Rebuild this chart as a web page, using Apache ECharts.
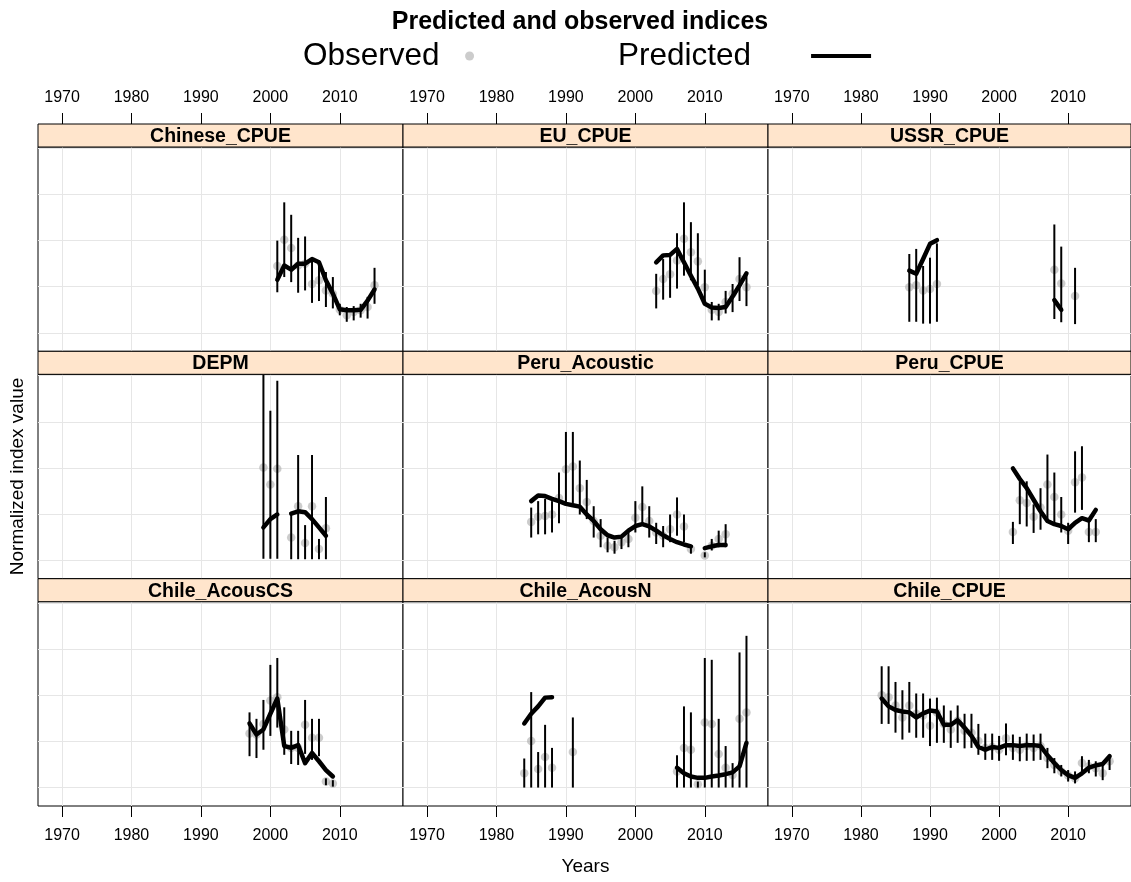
<!DOCTYPE html>
<html>
<head>
<meta charset="utf-8">
<script src="https://cdn.jsdelivr.net/npm/echarts@6/dist/echarts.min.js"></script>
<style>
html,body{margin:0;padding:0;background:#fff;}
#chart{width:1131px;height:882px;}
</style>
</head>
<body>
<div id="chart"></div>
<script>
// ---------------- DATA ----------------
const panelNames = ['Chinese_CPUE','EU_CPUE','USSR_CPUE','DEPM','Peru_Acoustic','Peru_CPUE','Chile_AcousCS','Chile_AcousN','Chile_CPUE'];
const xTicks = [1970, 1980, 1990, 2000, 2010];
const yTicks = [0, 1, 2, 3, 4];

const chineseYears = [2001,2002,2003,2004,2005,2006,2007,2008,2009,2010,2011,2012,2013,2014,2015];
const chineseObs  = [1.45,2.02,1.84,1.46,1.50,1.06,1.14,0.92,0.85,0.50,0.38,0.45,0.49,0.56,1.03];
const chineseLo   = [0.88,1.21,1.10,0.87,0.92,0.65,0.69,0.56,0.53,0.38,0.24,0.27,0.33,0.31,0.63];
const chineseHi   = [2.00,2.83,2.56,2.06,2.09,1.64,1.57,1.32,1.21,0.63,0.56,0.58,0.63,0.78,1.41];
const chinesePred = [1.15,1.46,1.37,1.50,1.50,1.60,1.53,1.14,0.85,0.51,0.49,0.49,0.50,0.70,0.94];

const euYears = [2003,2004,2005,2006,2007,2008,2009,2010,2011,2012,2013,2014,2015,2016];
const euObs  = [0.91,1.17,1.27,1.57,2.04,1.75,1.55,0.99,0.50,0.45,0.67,0.85,1.17,0.99];
const euLo   = [0.53,0.72,0.76,0.96,1.24,1.14,1.03,0.63,0.27,0.27,0.42,0.45,0.69,0.58];
const euHi   = [1.28,1.60,1.68,2.16,2.83,2.40,2.16,1.37,0.67,0.63,0.91,1.06,1.64,1.32];
const euPred = [1.53,1.68,1.69,1.82,1.53,1.24,0.96,0.63,0.55,0.54,0.56,0.79,1.03,1.29];

const ussrYears = [1987,1988,1989,1990,1991,2008,2009,2011];
const ussrObs  = [0.99,1.03,0.92,0.95,1.06,1.37,1.07,0.80];
const ussrLo   = [0.24,0.24,0.20,0.20,0.24,0.30,0.23,0.19];
const ussrHi   = [1.71,1.82,1.45,1.63,1.94,2.35,1.87,1.41];
const ussrPred = [1.35,1.28,1.60,1.93,2.01,0.71,0.50,null];

const depmYears = [1999,2000,2001,2003,2004,2005,2006,2007,2008];
const depmObs  = [2.01,1.64,1.98,0.49,1.17,0.37,1.17,0.24,0.69];
const depmLo   = [0.03,0.03,0.03,0.02,0.02,0.02,0.02,0.02,0.02];
const depmHi   = [4.60,3.24,3.89,0.99,2.28,0.76,2.28,0.46,1.37];
const depmPred = [0.71,0.89,0.99,1.01,1.06,1.04,0.89,0.71,0.53];

const peruAcYears = [1985,1986,1987,1988,1989,1990,1991,1992,1993,1994,1995,1996,1997,1998,1999,2000,2001,2002,2003,2004,2005,2006,2007,2008,2010,2011,2012,2013];
const peruAcObs  = [0.83,0.94,0.96,0.99,1.35,1.97,2.03,1.56,1.26,0.85,0.53,0.31,0.28,0.39,0.46,0.92,1.15,0.85,0.60,0.53,0.67,0.99,0.73,0.24,0.10,0.31,0.46,0.56];
const peruAcLo   = [0.49,0.56,0.56,0.60,0.80,1.24,1.24,0.99,0.89,0.49,0.28,0.17,0.14,0.24,0.28,0.60,0.78,0.49,0.35,0.28,0.39,0.53,0.39,0.14,0.06,0.21,0.28,0.28];
const peruAcHi   = [1.14,1.28,1.33,1.28,1.90,2.78,2.78,2.16,1.74,1.17,0.89,0.49,0.42,0.53,0.67,1.28,1.60,1.17,0.81,0.74,0.99,1.36,0.99,0.31,0.17,0.46,0.64,0.78];
const peruAcPred = [1.28,1.40,1.39,1.33,1.28,1.22,1.19,1.16,0.99,0.85,0.67,0.54,0.49,0.51,0.64,0.74,0.78,0.73,0.64,0.54,0.46,0.39,0.34,0.30,0.26,0.30,0.33,0.33];

const peruCpYears = [2002,2003,2004,2005,2006,2007,2008,2009,2010,2011,2012,2013,2014];
const peruCpObs  = [0.61,1.30,1.24,0.94,1.14,1.64,1.37,0.99,0.64,1.69,1.79,0.61,0.61];
const peruCpLo   = [0.35,0.78,0.73,0.59,0.66,0.85,0.81,0.60,0.35,1.03,1.09,0.39,0.39];
const peruCpHi   = [0.83,1.71,1.71,1.21,1.56,2.29,1.90,1.37,0.81,2.36,2.47,0.89,0.89];
const peruCpPred = [1.99,1.76,1.56,1.31,1.06,0.85,0.78,0.74,0.67,0.81,0.91,0.86,1.09];

const chileCSYears = [1997,1998,1999,2000,2001,2002,2003,2004,2005,2006,2007,2008,2009];
const chileCSObs  = [1.17,1.15,1.38,1.89,1.96,1.26,0.86,0.86,1.36,1.08,1.08,0.13,0.09];
const chileCSLo   = [0.68,0.64,0.82,1.12,1.30,0.71,0.51,0.49,0.73,0.60,0.68,0.05,0.02];
const chileCSHi   = [1.63,1.49,1.90,2.66,2.81,1.74,1.23,1.23,1.90,1.49,1.49,0.20,0.16];
const chileCSPred = [1.39,1.15,1.26,1.60,1.93,0.90,0.86,0.92,0.53,0.75,0.57,0.38,0.24];

const chileNYears = [1984,1985,1986,1987,1988,1991,2006,2007,2008,2009,2010,2011,2012,2013,2014,2015,2016];
const chileNObs  = [0.31,1.01,0.40,0.66,0.43,0.77,0.35,0.86,0.82,0.07,1.41,1.38,0.73,0.43,0.27,1.49,1.63];
const chileNLo   = [0.00,0.00,0.00,0.00,0.00,0.00,0.00,0.00,0.00,0.00,0.00,0.00,0.00,0.00,0.00,0.00,0.00];
const chileNHi   = [0.63,2.07,0.77,1.36,0.86,1.52,0.70,1.76,1.63,0.13,2.81,2.77,1.49,0.90,0.53,2.93,3.29];
const chileNPred = [1.39,1.60,1.76,1.95,1.96,null,0.43,0.31,0.24,0.21,0.21,0.24,0.26,0.29,0.33,0.46,0.97];

const chileCpYears = [1983,1984,1985,1986,1987,1988,1989,1990,1991,1992,1993,1994,1995,1996,1997,1998,1999,2000,2001,2002,2003,2004,2005,2006,2007,2008,2009,2010,2011,2012,2013,2014,2015,2016];
const chileCpObs  = [2.00,1.96,1.78,1.52,1.78,1.60,1.56,1.34,1.63,1.38,1.26,1.45,1.23,1.19,1.01,0.86,0.88,0.82,1.07,0.86,0.82,0.90,0.86,0.90,0.64,0.49,0.35,0.26,0.20,0.53,0.46,0.42,0.31,0.57];
const chileCpLo   = [1.38,1.38,1.19,1.04,1.19,1.08,1.08,0.90,0.97,0.97,0.86,0.97,0.85,0.86,0.71,0.60,0.60,0.58,0.70,0.60,0.57,0.58,0.58,0.60,0.42,0.31,0.24,0.13,0.09,0.31,0.31,0.24,0.16,0.38];
const chileCpHi   = [2.63,2.63,2.29,2.11,2.29,2.04,2.04,1.93,1.95,1.78,1.67,1.78,1.60,1.60,1.38,1.17,1.17,1.12,1.39,1.15,1.10,1.17,1.15,1.17,0.86,0.64,0.49,0.38,0.35,0.68,0.60,0.57,0.49,0.71];
const chileCpPred = [1.93,1.76,1.68,1.65,1.63,1.52,1.61,1.67,1.65,1.36,1.36,1.46,1.30,1.12,0.88,0.82,0.88,0.86,0.92,0.92,0.90,0.92,0.92,0.90,0.70,0.53,0.38,0.27,0.21,0.31,0.43,0.48,0.51,0.68];

// ---------------- LAYOUT ----------------
const FONT = 'Liberation Sans, Arial, Helvetica, sans-serif';
const panelLeft = [38, 403, 768];
const panelWidth = [365, 365, 363];
const stripTop = [124, 351.3, 578.7];
const stripH = 23;
const plotH = 204.3;
const xMin = 1966.54, xMax = 2019.1;
const yMin = -0.40, yMax = 4.03;

const panels = [
  [chineseYears, chineseObs, chineseLo, chineseHi, chinesePred],
  [euYears, euObs, euLo, euHi, euPred],
  [ussrYears, ussrObs, ussrLo, ussrHi, ussrPred],
  [depmYears, depmObs, depmLo, depmHi, depmPred],
  [peruAcYears, peruAcObs, peruAcLo, peruAcHi, peruAcPred],
  [peruCpYears, peruCpObs, peruCpLo, peruCpHi, peruCpPred],
  [chileCSYears, chileCSObs, chileCSLo, chileCSHi, chileCSPred],
  [chileNYears, chileNObs, chileNLo, chileNHi, chileNPred],
  [chileCpYears, chileCpObs, chileCpLo, chileCpHi, chileCpPred]
];

function lineData(years, pred) {
  const out = [];
  years.forEach((y, k) => {
    if (k > 0 && y - years[k - 1] > 1) out.push([years[k - 1] + 1, null]);
    out.push([y, pred[k]]);
  });
  return out;
}

function renderBar(params, api) {
  const x = api.value(0), lo = api.value(1), hi = api.value(2);
  const p1 = api.coord([x, lo]);
  const p2 = api.coord([x, hi]);
  const cs = params.coordSys;
  const yTop = Math.max(p2[1], cs.y);
  const yBot = Math.min(p1[1], cs.y + cs.height);
  return {
    type: 'line',
    shape: { x1: p1[0], y1: yBot, x2: p1[0], y2: yTop },
    style: { stroke: '#000', lineWidth: 2 }
  };
}

const grids = [], xAxes = [], yAxes = [], series = [], graphics = [];
panels.forEach((p, i) => {
  const r = Math.floor(i / 3), c = i % 3;
  const top = stripTop[r] + stripH;
  grids.push({
    left: panelLeft[c], top: top, width: panelWidth[c], height: plotH,
    containLabel: false, outerBoundsMode: 'none',
    show: true, borderColor: '#000', borderWidth: 1, backgroundColor: '#fff'
  });
  const isTop = r === 0, isBottom = r === 2;
  const showAx = isTop || isBottom;
  const xa = {
    type: 'value', gridIndex: i, min: xMin, max: xMax,
    position: isTop ? 'top' : 'bottom',
    offset: isTop ? stripH : 0,
    axisLine: { show: false, onZero: false },
    axisTick: { show: showAx, length: 11, inside: false, customValues: xTicks, lineStyle: { color: '#000', width: 1 } },
    axisLabel: { show: showAx, customValues: xTicks, formatter: v => String(v),
                 color: '#000', fontSize: 16, fontFamily: FONT, margin: isTop ? 18 : 22 },
    splitLine: { show: true, lineStyle: { color: '#E6E6E6', width: 1 } }
  };
  if (i === 7) {
    xa.name = 'Years'; xa.nameLocation = 'middle'; xa.nameGap = 51;
    xa.nameTextStyle = { color: '#000', fontSize: 19, fontFamily: FONT };
  }
  xAxes.push(xa);
  const ya = {
    type: 'value', gridIndex: i, min: yMin, max: yMax,
    axisLine: { show: false, onZero: false }, axisTick: { show: false, customValues: yTicks },
    axisLabel: { show: false, customValues: yTicks },
    splitLine: { show: true, lineStyle: { color: '#E6E6E6', width: 1 } }
  };
  if (i === 3) {
    ya.name = 'Normalized index value'; ya.nameLocation = 'middle'; ya.nameGap = 11; ya.nameRotate = 90;
    ya.nameTextStyle = { color: '#000', fontSize: 19, fontFamily: FONT };
  }
  yAxes.push(ya);

  const [years, obs, lo, hi, pred] = p;
  series.push({
    name: 'Observed', type: 'scatter', xAxisIndex: i, yAxisIndex: i,
    data: years.map((y, k) => [y, obs[k]]),
    symbol: 'circle', symbolSize: 8.5,
    itemStyle: { color: 'rgba(170,170,170,0.75)' },
    z: 2, silent: true
  });
  series.push({
    name: 'CI', type: 'custom', xAxisIndex: i, yAxisIndex: i,
    data: years.map((y, k) => [y, lo[k], hi[k]]),
    encode: { x: 0, y: [1, 2] },
    renderItem: renderBar, z: 3, silent: true
  });
  series.push({
    name: 'Predicted', type: 'line', xAxisIndex: i, yAxisIndex: i,
    data: lineData(years, pred),
    symbol: 'none', showSymbol: false, connectNulls: false,
    lineStyle: { color: '#000', width: 4.5, cap: 'round', join: 'round' },
    itemStyle: { color: '#000' },
    z: 4, silent: true
  });

  graphics.push({
    type: 'rect', z: 10,
    shape: { x: panelLeft[c], y: stripTop[r], width: panelWidth[c], height: stripH },
    style: { fill: '#FFE5CC', stroke: '#000', lineWidth: 1 }
  });
  graphics.push({
    type: 'text', z: 11,
    x: panelLeft[c] + panelWidth[c] / 2, y: stripTop[r] + stripH / 2 + 1,
    style: { text: panelNames[i], align: 'center', verticalAlign: 'middle', fill: '#000',
             fontSize: 19.5, fontWeight: 'bold', fontFamily: FONT }
  });
});

const option = {
  animation: false,
  backgroundColor: '#fff',
  textStyle: { fontFamily: FONT },
  title: {
    text: 'Predicted and observed indices', left: 575, top: 5, textAlign: 'center',
    textStyle: { fontSize: 25, fontWeight: 'bold', color: '#000', fontFamily: FONT }
  },
  legend: [
    { data: ['Observed'], left: 298, top: 35, align: 'right', itemWidth: 50, itemHeight: 9,
      selectedMode: false, textStyle: { fontSize: 31.5, color: '#000', fontFamily: FONT } },
    { data: [{ name: 'Predicted', icon: 'rect' }], left: 613, top: 35, align: 'right', itemWidth: 60, itemHeight: 4,
      selectedMode: false, textStyle: { fontSize: 31.5, color: '#000', fontFamily: FONT, padding: [0, 55, 0, 0] } }
  ],
  grid: grids,
  xAxis: xAxes,
  yAxis: yAxes,
  series: series,
  graphic: graphics
};

const chart = echarts.init(document.getElementById('chart'), null, { renderer: 'canvas' });
chart.setOption(option);
</script>
</body>
</html>
